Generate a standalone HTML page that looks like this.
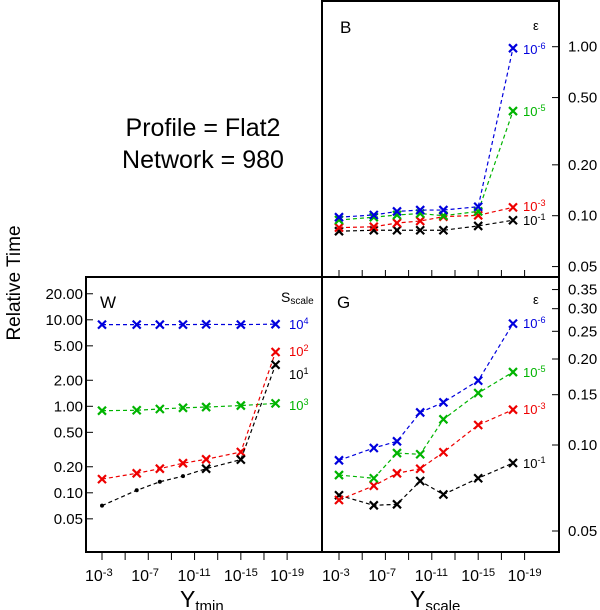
<!DOCTYPE html>
<html><head><meta charset="utf-8"><style>
body{margin:0;background:#fff}
svg{display:block;font-family:"Liberation Sans",sans-serif}
</style></head><body>
<svg id="chart" width="600" height="610" viewBox="0 0 600 610" xmlns="http://www.w3.org/2000/svg">
<g fill="none" stroke="#000" stroke-width="2">
<rect x="322" y="1" width="237" height="276"/>
<rect x="86" y="277" width="236" height="275"/>
<rect x="322" y="277" width="237" height="275"/>
</g>
<text x="203" y="136" font-size="25" text-anchor="middle">Profile = Flat2</text>
<text x="203" y="168" font-size="25" text-anchor="middle">Network = 980</text>
<text x="0" y="0" font-size="19" text-anchor="middle" transform="translate(20,283) rotate(-90)">Relative Time</text>
<text x="180" y="607" font-size="23">Y<tspan font-size="15" dy="4">tmin</tspan></text>
<text x="410" y="607" font-size="23">Y<tspan font-size="15" dy="4">scale</tspan></text>
<text x="340" y="33" font-size="17">B</text>
<text x="100" y="308" font-size="17">W</text>
<text x="337" y="308" font-size="17">G</text>
<text x="533" y="30" font-size="13">ε</text>
<text x="533" y="304" font-size="13">ε</text>
<text x="281" y="302" font-size="14">S<tspan font-size="10" dy="2">scale</tspan></text>
<g id="marks"></g>
</svg>
<script>
const xExp = [-3, -6, -8, -10, -12, -15, -18];
const xTickLabels = [-3, -7, -11, -15, -19];
const wTicks = [20, 10, 5, 2, 1, 0.5, 0.2, 0.1, 0.05];
const bTicks = [1, 0.5, 0.2, 0.1, 0.05];
const gTicks = [0.35, 0.3, 0.25, 0.2, 0.15, 0.1, 0.05];
const wBlue = [8.8, 8.8, 8.8, 8.8, 8.85, 8.8, 8.9];
const wGreen = [0.89, 0.9, 0.93, 0.96, 0.98, 1.02, 1.08];
const wRed = [0.144, 0.168, 0.19, 0.22, 0.244, 0.296, 4.24];
const wBlack = [0.071, 0.107, 0.134, 0.156, 0.19, 0.242, 3.02];
const bBlue = [0.098, 0.101, 0.106, 0.108, 0.108, 0.113, 0.98];
const bGreen = [0.0943, 0.098, 0.101, 0.103, 0.1, 0.106, 0.416];
const bRed = [0.085, 0.086, 0.0905, 0.093, 0.0987, 0.1005, 0.112];
const bBlack = [0.081, 0.082, 0.082, 0.082, 0.082, 0.087, 0.094];
const gBlue = [0.0884, 0.0976, 0.103, 0.13, 0.141, 0.168, 0.266];
const gGreen = [0.0785, 0.0765, 0.0937, 0.0928, 0.123, 0.152, 0.18];
const gRed = [0.0642, 0.072, 0.0796, 0.0826, 0.0943, 0.1175, 0.1329];
const gBlack = [0.0667, 0.0615, 0.062, 0.0748, 0.0671, 0.0765, 0.0865];

const NS = "http://www.w3.org/2000/svg";
const root = document.getElementById('marks');
function mk(tag, attrs, parent) {
  const e = document.createElementNS(NS, tag);
  for (const k in attrs) e.setAttribute(k, attrs[k]);
  (parent || root).appendChild(e);
  return e;
}
const COL = {blue: '#0000dd', green: '#00b400', red: '#ee0000', black: '#000'};
function xW(e) { return 102 + (-3 - e) * 11.57; }
function xG(e) { return 339 + (-3 - e) * 11.6; }
function yW(v) { return 406.3 - 86.5 * Math.log10(v); }
function yB(v) { return 215.7 - 169 * Math.log10(v / 0.1); }
function yG(v) { return 445 - 285.7 * Math.log10(v / 0.1); }

function series(vals, xf, yf, color, name, dotCount) {
  const g = mk('g', {});
  
  
  const pts = vals.map((v, i) => [xf(xExp[i]), yf(v)]);
  const pl = mk('polyline', {points: pts.map(p => p.join(',')).join(' '), fill: 'none', stroke: color, 'stroke-width': 1.2, 'stroke-dasharray': '4,3'}, g);
  
  
  pts.forEach((p, i) => {
    if (i < (dotCount || 0)) {
      const c = mk('circle', {cx: p[0], cy: p[1], r: 2, fill: color}, g);
      
      
    } else {
      const s = 4;
      const m = mk('path', {d: `M${p[0]-s},${p[1]-s}L${p[0]+s},${p[1]+s}M${p[0]-s},${p[1]+s}L${p[0]+s},${p[1]-s}`, stroke: color, 'stroke-width': 2.2, fill: 'none'}, g);
      
      
    }
  });
}
function label(x, y, txt, sup, color, name, sz) {
  const t = mk('text', {x: x, y: y, fill: color, 'font-size': sz || 13});
  
  
  t.textContent = txt;
  const ts = mk('tspan', {'font-size': (sz || 13) * 0.7, dy: -5}, t);
  ts.textContent = sup;
}

function xAxis(xf, name, bottomY, inside, showLabels) {
  for (let e = -3; e >= -19; e -= 2) {
    const l = mk('line', {x1: xf(e), x2: xf(e), y1: bottomY, y2: inside ? bottomY - 7 : bottomY + 8, stroke: '#000', 'stroke-width': 1});
    
    
  }
  if (showLabels) xTickLabels.forEach(e => label(xf(e) - 17, 581, '10', String(e), '#000', name + '-tick-label', 16));
}
xAxis(xW, 'x-axis-w', 552, false, true);
xAxis(xG, 'x-axis-g', 552, false, true);
xAxis(xG, 'x-axis-b', 277, true, false);

function yAxis(ticks, yf, xEdge, dir, labelX, anchor, fmt, name) {
  ticks.forEach(v => {
    const y = yf(v);
    const l = mk('line', {x1: xEdge, x2: xEdge + dir * 7, y1: y, y2: y, stroke: '#000', 'stroke-width': 1});
    
    
    const t = mk('text', {x: labelX, y: y + 5, 'font-size': 15, 'text-anchor': anchor});
    
    
    t.textContent = v.toFixed(fmt);
  });
}
yAxis(wTicks, yW, 86, 1, 83, 'end', 2, 'y-axis-w');
yAxis(bTicks, yB, 559, -1, 568, 'start', 2, 'y-axis-b');
yAxis(gTicks, yG, 559, -1, 568, 'start', 2, 'y-axis-g');

series(wBlue, xW, yW, COL.blue, 'w-series-1e4');
series(wGreen, xW, yW, COL.green, 'w-series-1e3');
series(wRed, xW, yW, COL.red, 'w-series-1e2');
series(wBlack, xW, yW, COL.black, 'w-series-1e1', 4);
series(bBlack, xG, yB, COL.black, 'b-series-1e-1');
series(bRed, xG, yB, COL.red, 'b-series-1e-3');
series(bGreen, xG, yB, COL.green, 'b-series-1e-5');
series(bBlue, xG, yB, COL.blue, 'b-series-1e-6');
series(gBlack, xG, yG, COL.black, 'g-series-1e-1');
series(gRed, xG, yG, COL.red, 'g-series-1e-3');
series(gGreen, xG, yG, COL.green, 'g-series-1e-5');
series(gBlue, xG, yG, COL.blue, 'g-series-1e-6');

label(289, 329, '10', '4', COL.blue, 'legend-w-1e4');
label(289, 356, '10', '2', COL.red, 'legend-w-1e2');
label(289, 379, '10', '1', COL.black, 'legend-w-1e1');
label(289, 410, '10', '3', COL.green, 'legend-w-1e3');
label(523, 54, '10', '-6', COL.blue, 'legend-b-1e-6');
label(523, 116, '10', '-5', COL.green, 'legend-b-1e-5');
label(523, 211, '10', '-3', COL.red, 'legend-b-1e-3');
label(523, 225, '10', '-1', COL.black, 'legend-b-1e-1');
label(523, 328, '10', '-6', COL.blue, 'legend-g-1e-6');
label(523, 377, '10', '-5', COL.green, 'legend-g-1e-5');
label(523, 414, '10', '-3', COL.red, 'legend-g-1e-3');
label(523, 468, '10', '-1', COL.black, 'legend-g-1e-1');
</script>
</body></html>
